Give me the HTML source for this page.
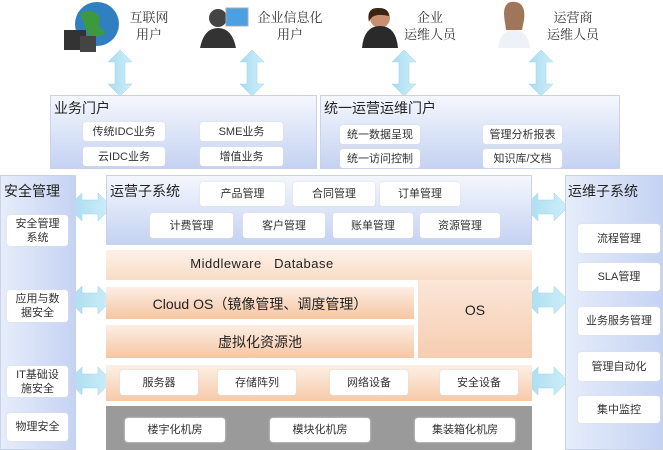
<!DOCTYPE html>
<html><head><meta charset="utf-8"><style>
body{margin:0;width:663px;height:450px;background:#fff;position:relative;overflow:hidden;font-family:"Liberation Sans","Noto Sans CJK SC",sans-serif;}
.a{position:absolute;box-sizing:border-box}
.blue{background:linear-gradient(#f4f7fd,#c4d2f2);border:1px solid #c9d3e8}
.org{background:linear-gradient(#fdeee4,#f5c6a3)}
.it{position:absolute;background:#fff;border-radius:3px;font-size:11px;color:#333;display:flex;align-items:center;justify-content:center;text-align:center;line-height:14px;box-shadow:0 0 2px #ddd}
.t{position:absolute;font-size:14px;color:#222}
.lbl{position:absolute;font-size:13px;color:#333;text-align:center;line-height:17px;font-family:"Liberation Serif","Noto Serif CJK SC",serif}
</style></head><body>
<svg class="a" style="left:0;top:0" width="663" height="450">
<defs><linearGradient id="ar" x1="0" x2="1"><stop offset="0" stop-color="#a9dcf0"/><stop offset="1" stop-color="#cdeef9"/></linearGradient></defs>
<g fill="url(#ar)" stroke="#9fd2e8" stroke-width="0.5">
<path d="M120 50 l-12 12 h7 v22 h-7 l12 12 l12 -12 h-7 v-22 h7z"/>
<path d="M252 50 l-12 12 h7 v22 h-7 l12 12 l12 -12 h-7 v-22 h7z"/>
<path d="M404 50 l-12 12 h7 v22 h-7 l12 12 l12 -12 h-7 v-22 h7z"/>
<path d="M541 50 l-12 12 h7 v22 h-7 l12 12 l12 -12 h-7 v-22 h7z"/>
<path d="M68 207 l14 -14 v7 h16 v-7 l14 14 l-14 14 v-7 h-16 v7z"/>
<path d="M68 300 l14 -14 v7 h16 v-7 l14 14 l-14 14 v-7 h-16 v7z"/>
<path d="M68 381 l14 -14 v7 h16 v-7 l14 14 l-14 14 v-7 h-16 v7z"/>
<path d="M524 207 l14 -14 v7 h16 v-7 l14 14 l-14 14 v-7 h-16 v7z"/>
<path d="M524 300 l14 -14 v7 h16 v-7 l14 14 l-14 14 v-7 h-16 v7z"/>
<path d="M524 381 l14 -14 v7 h16 v-7 l14 14 l-14 14 v-7 h-16 v7z"/>
</g>
<!-- icons -->
<circle cx="97" cy="24" r="22" fill="#2f7fc1"/><path d="M80 14 q12 -8 20 4 q-4 10 6 14 q-8 8 -18 2z" fill="#3c9a3c"/>
<rect x="64" y="30" width="22" height="20" fill="#333"/><rect x="80" y="36" width="16" height="16" fill="#444"/>
<circle cx="218" cy="18" r="9" fill="#444"/><path d="M200 48 q4 -20 18 -20 q14 0 18 20z" fill="#333"/><rect x="226" y="8" width="22" height="18" fill="#4aa0e0" stroke="#aaa"/>
<circle cx="380" cy="18" r="10" fill="#c89070"/><path d="M378 8 q-12 0 -9 14 q3 -10 20 -6 q0 -8 -11 -8z" fill="#3a2510"/><path d="M362 48 q2 -22 18 -22 q16 0 18 22z" fill="#2a2a2a"/>
<circle cx="514" cy="18" r="10" fill="#e8c2a0"/><path d="M504 14 q0 -14 12 -12 q10 2 8 18 l-2 10 h-16z" fill="#a0765a"/><path d="M498 48 q2 -18 16 -18 q14 0 16 18z" fill="#eef2f8"/>
</svg>
<div class="lbl" style="left:124px;top:9px;width:50px">互联网<br>用户</div>
<div class="lbl" style="left:250px;top:9px;width:80px">企业信息化<br>用户</div>
<div class="lbl" style="left:398px;top:9px;width:64px">企业<br>运维人员</div>
<div class="lbl" style="left:536px;top:9px;width:74px">运营商<br>运维人员</div>

<div class="a blue" style="left:50px;top:95px;width:267px;height:74px"></div>
<div class="t" style="left:54px;top:98px">业务门户</div>
<div class="it" style="left:83px;top:122px;width:82px;height:19px">传统IDC业务</div>
<div class="it" style="left:200px;top:122px;width:83px;height:19px">SME业务</div>
<div class="it" style="left:83px;top:147px;width:82px;height:19px">云IDC业务</div>
<div class="it" style="left:200px;top:147px;width:83px;height:19px">增值业务</div>

<div class="a blue" style="left:320px;top:95px;width:300px;height:74px"></div>
<div class="t" style="left:324px;top:98px">统一运营运维门户</div>
<div class="it" style="left:340px;top:125px;width:80px;height:19px">统一数据呈现</div>
<div class="it" style="left:483px;top:125px;width:79px;height:19px">管理分析报表</div>
<div class="it" style="left:340px;top:149px;width:80px;height:19px">统一访问控制</div>
<div class="it" style="left:483px;top:149px;width:79px;height:19px">知识库/文档</div>

<div class="a blue" style="left:0;top:175px;width:76px;height:275px;background:linear-gradient(90deg,#e6edfb,#c5d3f3)"></div>
<div class="t" style="left:4px;top:181px">安全管理</div>
<div class="it" style="left:7px;top:215px;width:61px;height:31px">安全管理<br>系统</div>
<div class="it" style="left:7px;top:290px;width:61px;height:32px">应用与数<br>据安全</div>
<div class="it" style="left:7px;top:366px;width:61px;height:31px">IT基础设<br>施安全</div>
<div class="it" style="left:7px;top:413px;width:61px;height:28px">物理安全</div>

<div class="a blue" style="left:565px;top:175px;width:98px;height:275px;background:linear-gradient(90deg,#e6edfb,#c5d3f3)"></div>
<div class="t" style="left:568px;top:181px">运维子系统</div>
<div class="it" style="left:578px;top:224px;width:82px;height:29px">流程管理</div>
<div class="it" style="left:578px;top:263px;width:82px;height:28px">SLA管理</div>
<div class="it" style="left:578px;top:307px;width:82px;height:28px">业务服务管理</div>
<div class="it" style="left:578px;top:352px;width:82px;height:29px">管理自动化</div>
<div class="it" style="left:578px;top:396px;width:82px;height:27px">集中监控</div>

<div class="a blue" style="left:106px;top:175px;width:426px;height:70px"></div>
<div class="t" style="left:110px;top:181px">运营子系统</div>
<div class="it" style="left:200px;top:182px;width:85px;height:24px">产品管理</div>
<div class="it" style="left:293px;top:182px;width:82px;height:24px">合同管理</div>
<div class="it" style="left:380px;top:182px;width:80px;height:24px">订单管理</div>
<div class="it" style="left:150px;top:213px;width:83px;height:25px">计费管理</div>
<div class="it" style="left:243px;top:213px;width:82px;height:25px">客户管理</div>
<div class="it" style="left:333px;top:213px;width:80px;height:25px">账单管理</div>
<div class="it" style="left:420px;top:213px;width:80px;height:25px">资源管理</div>

<div class="a org" style="left:106px;top:250px;width:426px;height:30px;background:linear-gradient(#fdf1e9,#f9dcc6)"></div>
<div class="a" style="left:106px;top:256px;width:312px;text-align:center;font-size:13px;color:#222;letter-spacing:0.5px">Middleware&nbsp;&nbsp; Database</div>
<div class="a org" style="left:418px;top:280px;width:114px;height:78px;background:linear-gradient(#fbe6d8,#f6cdb0)"></div>
<div class="a" style="left:418px;top:302px;width:114px;text-align:center;font-size:14px;color:#222">OS</div>
<div class="a org" style="left:106px;top:287px;width:308px;height:32px"></div>
<div class="a" style="left:106px;top:294px;width:308px;text-align:center;font-size:14px;color:#222">Cloud OS（镜像管理、调度管理）</div>
<div class="a org" style="left:106px;top:325px;width:308px;height:33px"></div>
<div class="a" style="left:106px;top:332px;width:308px;text-align:center;font-size:14px;color:#222">虚拟化资源池</div>

<div class="a org" style="left:106px;top:365px;width:426px;height:36px;background:linear-gradient(#fdf0e6,#f6caa8)"></div>
<div class="it" style="left:120px;top:370px;width:78px;height:25px">服务器</div>
<div class="it" style="left:218px;top:370px;width:78px;height:25px">存储阵列</div>
<div class="it" style="left:330px;top:370px;width:78px;height:25px">网络设备</div>
<div class="it" style="left:440px;top:370px;width:78px;height:25px">安全设备</div>

<div class="a" style="left:106px;top:406px;width:426px;height:44px;background:#9a9a9a"></div>
<div class="it" style="left:125px;top:418px;width:100px;height:24px">楼宇化机房</div>
<div class="it" style="left:270px;top:418px;width:100px;height:24px">模块化机房</div>
<div class="it" style="left:415px;top:418px;width:100px;height:24px">集装箱化机房</div>
</body></html>
